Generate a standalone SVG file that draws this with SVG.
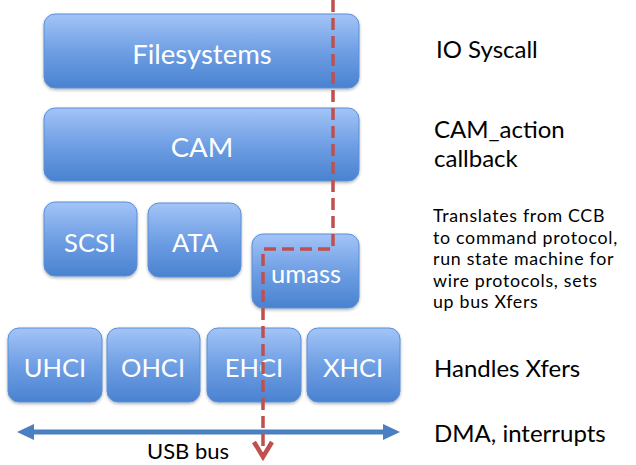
<svg xmlns="http://www.w3.org/2000/svg" width="636" height="465" viewBox="0 0 636 465">
<defs>
<linearGradient id="g" x1="0" y1="0" x2="0" y2="1">
<stop offset="0" stop-color="#a3c4f7"/>
<stop offset="0.5" stop-color="#6f9fe4"/>
<stop offset="1" stop-color="#4a82d0"/>
</linearGradient>
<filter id="sh" x="-10%" y="-10%" width="120%" height="130%">
<feDropShadow dx="0" dy="1.5" stdDeviation="1.5" flood-color="#000" flood-opacity="0.3"/>
</filter>
</defs>
<style>
.box{fill:url(#g);stroke:#5b8fd6;stroke-width:1;filter:url(#sh)}
.lbl{font-family:Lato,"Open Sans",sans-serif;fill:#fff;text-anchor:middle}
.side{font-family:Lato,"Open Sans",sans-serif;fill:#000}
</style>
<g id="filesystems"><rect class="box" x="44" y="14" width="315" height="74" rx="11"/><text class="lbl" x="202" y="64" font-size="27.5">Filesystems</text></g>
<g id="cam"><rect class="box" x="44" y="108" width="315" height="73" rx="11"/><text class="lbl" x="202" y="157" font-size="27.5">CAM</text></g>
<g id="scsi"><rect class="box" x="44" y="202" width="93" height="74" rx="11"/><text class="lbl" x="90" y="252" font-size="25.5">SCSI</text></g>
<g id="ata"><rect class="box" x="148" y="203" width="93" height="74" rx="11"/><text class="lbl" x="195" y="252" font-size="25.5">ATA</text></g>
<g id="umass"><rect class="box" x="252" y="234" width="107" height="74" rx="11"/><text class="lbl" x="306" y="283" font-size="25.5">umass</text></g>
<g id="uhci"><rect class="box" x="8" y="328" width="94" height="74" rx="11"/><text class="lbl" x="55" y="377" font-size="25.5">UHCI</text></g>
<g id="ohci"><rect class="box" x="107" y="328" width="93" height="74" rx="11"/><text class="lbl" x="153" y="377" font-size="25.5">OHCI</text></g>
<g id="ehci"><rect class="box" x="207" y="328" width="94" height="74" rx="11"/><text class="lbl" x="254" y="377" font-size="25.5">EHCI</text></g>
<g id="xhci"><rect class="box" x="307" y="328" width="93" height="74" rx="11"/><text class="lbl" x="353" y="377" font-size="25.5">XHCI</text></g>
<g id="connectors">
<line x1="30" y1="432" x2="386" y2="432" stroke="#4a7fc1" stroke-width="5"/>
<polygon points="17,432 34,424 34,440" fill="#4a7fc1"/>
<polygon points="400,432 383,424 383,440" fill="#4a7fc1"/>
<path d="M333 0 V249 H263 V457" fill="none" stroke="#c0504d" stroke-width="3.5" stroke-dasharray="12,6"/>
<path d="M254 442 L263 457 L272 442" fill="none" stroke="#c0504d" stroke-width="4.5"/>
</g>
<g id="labels">
<text class="side" x="436" y="58" font-size="24">IO Syscall</text>
<text class="side" x="434" y="138" font-size="24">CAM_action</text>
<text class="side" x="434" y="167" font-size="24">callback</text>
<text class="side" font-size="17.8" letter-spacing="0.7"><tspan x="433" y="222">Translates from CCB</tspan><tspan x="433" y="243.6">to command protocol,</tspan><tspan x="433" y="265.2">run state machine for</tspan><tspan x="433" y="286.8">wire protocols, sets</tspan><tspan x="433" y="308.4">up bus Xfers</tspan></text>
<text class="side" x="434" y="377" font-size="24">Handles Xfers</text>
<text class="side" x="434" y="442" font-size="24">DMA, interrupts</text>
<text class="side" x="188" y="459" font-size="22" text-anchor="middle">USB bus</text>
</g>
</svg>
